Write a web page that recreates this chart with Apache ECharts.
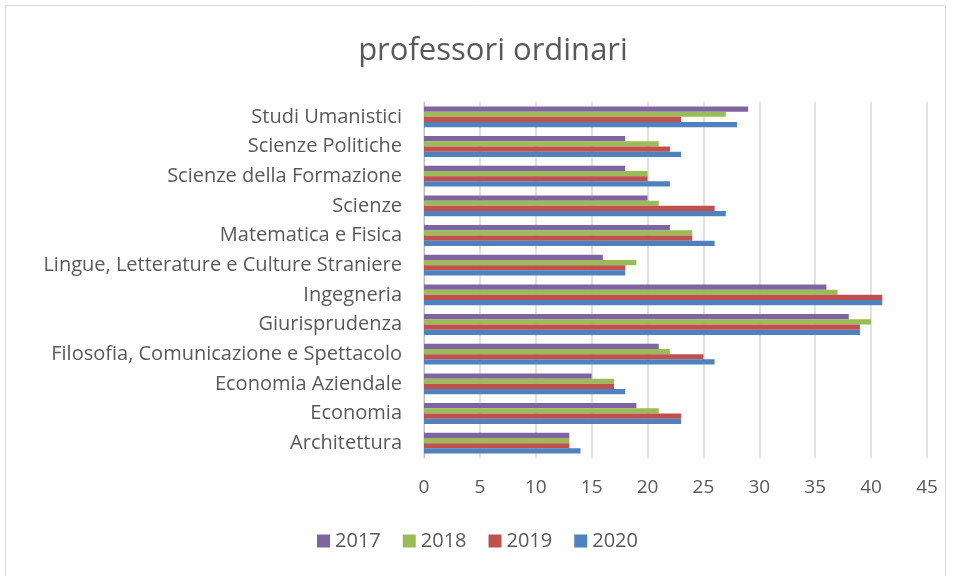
<!DOCTYPE html>
<html>
<head>
<meta charset="utf-8">
<script src="https://cdn.jsdelivr.net/npm/echarts@6/dist/echarts.min.js"></script>
<style>
  html, body { margin: 0; padding: 0; background: #fff; }
  #chart { width: 955px; height: 576px; }
</style>
</head>
<body>
<div id="chart"></div>
<script>
// categories bottom -> top, as the axis draws them
const categories = [
  'Architettura',
  'Economia',
  'Economia Aziendale',
  'Filosofia, Comunicazione e Spettacolo',
  'Giurisprudenza',
  'Ingegneria',
  'Lingue, Letterature e Culture Straniere',
  'Matematica e Fisica',
  'Scienze',
  'Scienze della Formazione',
  'Scienze Politiche',
  'Studi Umanistici'
]
const years = ['2017', '2018', '2019', '2020']
const values2017 = [13, 19, 15, 21, 38, 36, 16, 22, 20, 18, 18, 29]
const values2018 = [13, 21, 17, 22, 40, 37, 19, 24, 21, 20, 21, 27]
const values2019 = [13, 23, 17, 25, 39, 41, 18, 24, 26, 20, 22, 23]
const values2020 = [14, 23, 18, 26, 39, 41, 18, 26, 27, 22, 23, 28]
const xTicks = { min: 0, max: 45, step: 5 }

const colors = { '2017': '#8064A2', '2018': '#9BBB59', '2019': '#C0504D', '2020': '#4F81BD' }
const font = '"Open Sans", "Noto Sans", sans-serif'
const textColor = '#595959'

function barSeries(name, data) {
  return {
    name: name,
    type: 'bar',
    data: data,
    barGap: '0%',
    barCategoryGap: '30%',
    itemStyle: { color: colors[name] }
  }
}

const chart = echarts.init(document.getElementById('chart'))
chart.setOption({
  animation: false,
  title: {
    text: 'professori ordinari',
    left: 488,
    top: 31,
    textAlign: 'center',
    textStyle: { fontFamily: font, fontSize: 31, fontWeight: 'normal', color: textColor }
  },
  graphic: [{
    type: 'rect',
    shape: { x: 5.5, y: 5.5, width: 940, height: 580 },
    style: { fill: 'none', stroke: '#d9d9d9', lineWidth: 1 },
    silent: true
  }],
  legend: {
    data: years,
    bottom: 20,
    left: 'center',
    itemWidth: 13,
    itemHeight: 13,
    itemGap: 22,
    icon: 'rect',
    textStyle: { fontFamily: font, fontSize: 20, color: textColor }
  },
  grid: { left: 424, right: 28, top: 102, bottom: 118 },
  xAxis: {
    type: 'value',
    min: xTicks.min,
    max: xTicks.max,
    interval: xTicks.step,
    axisLine: { show: false },
    axisTick: { show: false },
    splitLine: { lineStyle: { color: '#d9d9d9', width: 1.5 } },
    axisLabel: { fontFamily: font, fontSize: 19, color: textColor, margin: 20 }
  },
  yAxis: {
    type: 'category',
    data: categories,
    axisLine: { show: true, lineStyle: { color: '#bfbfbf' } },
    axisTick: { show: false },
    axisLabel: { fontFamily: font, fontSize: 20, color: textColor, margin: 22 }
  },
  series: [
    barSeries('2017', values2017),
    barSeries('2018', values2018),
    barSeries('2019', values2019),
    barSeries('2020', values2020)
  ]
})
</script>
</body>
</html>
